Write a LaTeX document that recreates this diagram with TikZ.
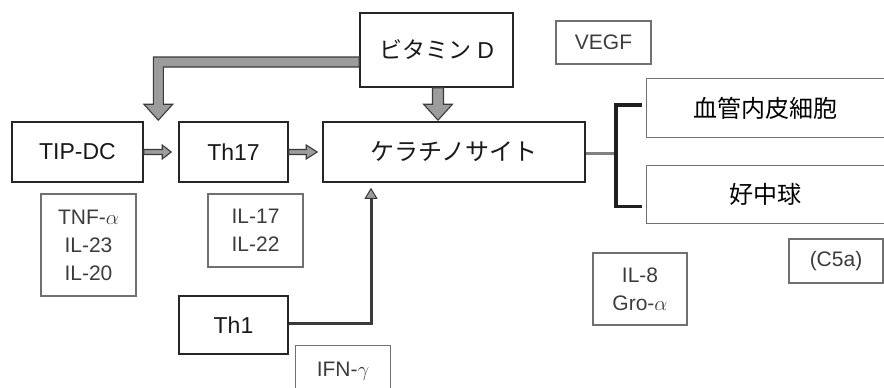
\documentclass[tikz,border=0pt]{standalone}
\usepackage{fontspec}
\setmainfont{Liberation Sans}
\newfontfamily\jp{Noto Sans CJK JP}
\usetikzlibrary{arrows.meta,calc}
\definecolor{boxline}{HTML}{262626}
\definecolor{smallline}{HTML}{707070}
\definecolor{smalltext}{HTML}{3C3C3C}
\definecolor{fatfill}{HTML}{9C9C9C}
\definecolor{fatline}{HTML}{3A3A3A}
\tikzset{
  mainbox/.style={draw=boxline, line width=1.6pt, fill=white, inner sep=0pt,
    font=\fontsize{23pt}{27pt}\selectfont, text=black!90},
  jpbox/.style={mainbox, font=\jp\fontsize{24pt}{28pt}\selectfont},
  smallbox/.style={draw=smallline, line width=1.1pt, inner sep=0pt, align=center,
    font=\fontsize{21pt}{28pt}\selectfont, text=smalltext},
  fat/.style={fill=fatfill, draw=fatline, line width=1.1pt, line join=miter},
  conn/.style={draw=fatline, line width=3pt,
    -{Triangle[length=11pt,width=13pt,fill=fatfill,line width=1pt]}, shorten >=5pt},
  brk/.style={draw=black!88, line width=3.4pt},
  brkin/.style={draw=black!50, line width=3pt},
}
\begin{document}
\begin{tikzpicture}[x=1pt,y=-1pt]
\useasboundingbox (0,0) rectangle (884,388);
% main boxes
\node[mainbox, minimum width=131pt, minimum height=60pt] (tip) at (77.5,152) {TIP-DC};
\node[mainbox, minimum width=109pt, minimum height=60pt] (th17) at (233.5,152) {Th17};
\node[jpbox, minimum width=262pt, minimum height=60pt] (ker) at (454,152) {ケラチノサイト};
\node[mainbox, minimum width=153pt, minimum height=74pt] (vd) at (436.5,50) {{\jp\fontsize{23pt}{27pt}\selectfont ビタミン} D};
\node[mainbox, minimum width=109pt, minimum height=58pt] (th1) at (233.5,325) {Th1};
% right boxes (open to the right edge)
\node[inner sep=0pt, minimum width=237pt, minimum height=58pt,
  font=\jp\fontsize{24pt}{28pt}\selectfont] (endo) at (765.5,108) {血管内皮細胞};
\draw[draw=smallline, line width=1.2pt] (endo.north east) -- (endo.north west) -- (endo.south west) -- (endo.south east);
\node[inner sep=0pt, minimum width=237pt, minimum height=57pt,
  font=\jp\fontsize{24pt}{28pt}\selectfont] (neut) at (765.5,194.5) {好中球};
\draw[draw=smallline, line width=1.2pt] (neut.north east) -- (neut.north west) -- (neut.south west) -- (neut.south east);
% small label boxes
\node[smallbox, minimum width=95pt, minimum height=43pt] (vegf) at (603.5,42.5) {VEGF};
\node[smallbox, minimum width=95pt, minimum height=102pt] (tnf) at (88.5,245) {TNF-$\alpha$\\IL-23\\IL-20};
\node[smallbox, minimum width=95pt, minimum height=73pt] (il17) at (255.5,230.5) {IL-17\\IL-22};
\node[smallbox, minimum width=94pt, minimum height=72pt] (il8) at (640,289) {IL-8\\Gro-$\alpha$};
\node[smallbox, minimum width=94pt, minimum height=44pt] (c5a) at (836,261) {(C5a)};
\node[inner sep=0pt, minimum width=94pt, minimum height=50pt,
  font=\fontsize{21pt}{28pt}\selectfont, text=smalltext] (ifn) at (343,371) {IFN-$\gamma$};
\draw[draw=smallline, line width=1.1pt] (ifn.south west) -- (ifn.north west) -- (ifn.north east) -- (ifn.south east);
% fat arrows
\draw[fat] let \p1=(tip.east), \p2=(th17.west) in
  (\x1,\y1+2.5pt) -- (\x2-16pt,\y1+2.5pt) -- (\x2-16pt,\y1+7pt) -- (\x2-7pt,\y1)
  -- (\x2-16pt,\y1-7pt) -- (\x2-16pt,\y1-2.5pt) -- (\x1,\y1-2.5pt) -- cycle;
\draw[fat] let \p1=(th17.east), \p2=(ker.west) in
  (\x1,\y1+2.5pt) -- (\x2-16pt,\y1+2.5pt) -- (\x2-16pt,\y1+7pt) -- (\x2-5pt,\y1)
  -- (\x2-16pt,\y1-7pt) -- (\x2-16pt,\y1-2.5pt) -- (\x1,\y1-2.5pt) -- cycle;
\draw[fat] let \p1=(vd.south), \p2=(ker.north) in
  (\x1-4pt,\y1) -- (\x1-4pt,\y2+17pt) -- (\x1-13pt,\y2+17pt) -- (\x1+1.5pt,\y2+1pt)
  -- (\x1+16pt,\y2+17pt) -- (\x1+7pt,\y2+17pt) -- (\x1+7pt,\y1) -- cycle;
\draw[fat] let \p1=(vd.west), \p2=(tip.north east) in
  (\x1,\y1-7pt) -- (\x2+9.5pt,\y1-7pt) -- (\x2+9.5pt,\y2+17pt) -- (\x2,\y2+17pt)
  -- (\x2+14.5pt,\y2+1pt) -- (\x2+29pt,\y2+17pt) -- (\x2+19.5pt,\y2+17pt)
  -- (\x2+19.5pt,\y1-17pt) -- (\x1,\y1-17pt) -- cycle;
% Th1 -> keratinocyte
\draw[conn] ([yshift=2pt]th1.east) -| ([xshift=-83pt]ker.south);
% keratinocyte -> bracket
\draw[brkin] ([yshift=-1pt]ker.east) -- ++(31,0);
\draw[brk] ([xshift=-5pt,yshift=3pt]endo.west) -- ++(-26,0) |- ([xshift=-5pt,yshift=-12pt]neut.west);
\end{tikzpicture}
\end{document}
